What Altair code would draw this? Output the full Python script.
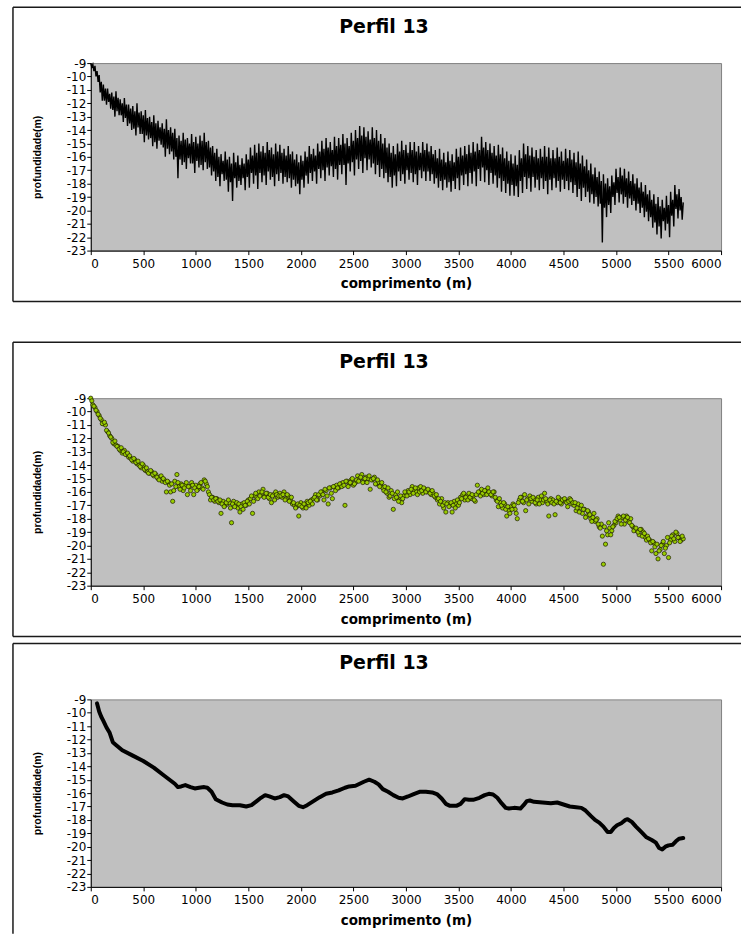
import altair as alt
import pandas as pd

title_text = "Perfil 13"
x_title = "comprimento (m)"
y_title = "profundidade(m)"
x_ticks = [0, 500, 1000, 1500, 2000, 2500, 3000, 3500, 4000, 4500, 5000, 5500, 6000]
y_ticks = [-23, -22, -21, -20, -19, -18, -17, -16, -15, -14, -13, -12, -11, -10, -9]

# ---- panel 1: raw echo-sounder profile, read as a zig-zag every 10 m:
# block of 40 m = peak (hi), trough (lo_a), peak (hi_b), trough (lo)
raw_step = 10
raw_hi = [
    -9.0, -9.2, -9.9, -10.6, -10.9, -11.2, -11.1, -11.7, -11.6, -12.1,
    -12.2, -12.0, -12.6, -12.5, -13.0, -12.9, -13.3, -13.5, -13.2, -13.8,
    -13.9, -14.4, -14.2, -14.6, -14.3, -14.5, -14.4, -14.2, -14.8, -15.2,
    -15.4, -15.8, -15.6, -16.0, -15.7, -15.9, -16.1, -15.8, -15.3, -15.1,
    -15.0, -15.2, -14.9, -15.3, -15.0, -15.1, -15.4, -15.2, -15.6, -15.8,
    -15.9, -15.6, -15.2, -15.4, -15.0, -14.8, -14.6, -14.9, -14.5, -14.6,
    -14.3, -14.6, -14.2, -14.0, -13.7, -13.8, -14.1, -13.8, -14.0, -14.3,
    -14.6, -15.0, -15.2, -15.0, -14.8, -15.1, -14.9, -14.9, -15.2, -14.9,
    -15.0, -15.2, -15.5, -15.4, -15.7, -15.6, -15.8, -15.4, -15.3, -15.2,
    -15.1, -14.9, -15.0, -14.5, -14.9, -15.0, -15.2, -15.1, -15.3, -15.6,
    -15.8, -15.9, -15.5, -15.0, -15.2, -15.3, -15.5, -15.4, -15.2, -15.3,
    -15.5, -15.3, -15.6, -15.4, -15.5, -15.7, -15.6, -15.9, -16.2, -16.5,
    -16.8, -17.1, -17.3, -17.6, -17.4, -16.9, -16.8, -16.9, -17.1, -17.3,
    -17.6, -17.9, -18.1, -18.5, -18.8, -19.0, -19.2, -18.9, -18.6, -18.1, -18.4,
]
raw_lo_a = [
    -9.3, -10.0, -11.2, -11.8, -11.9, -12.5, -12.6, -12.9, -13.1, -13.5,
    -13.9, -13.8, -14.3, -14.4, -14.6, -14.9, -14.8, -15.3, -15.4, -15.6,
    -16.0, -16.2, -16.4, -16.1, -16.5, -16.3, -16.6, -16.4, -16.8, -17.1,
    -17.5, -17.3, -17.7, -17.9, -17.6, -17.8, -17.6, -17.5, -17.2, -17.4,
    -17.2, -17.4, -17.1, -17.5, -17.3, -17.2, -17.5, -17.6, -17.7, -18.0,
    -17.7, -17.4, -17.2, -17.1, -16.9, -17.0, -16.8, -16.7, -16.9, -16.6,
    -16.6, -16.5, -16.4, -16.2, -16.3, -16.1, -16.2, -16.5, -16.6, -16.9,
    -17.2, -17.5, -17.4, -17.1, -17.3, -17.0, -17.2, -17.3, -17.0, -17.1,
    -17.1, -17.3, -17.6, -17.8, -17.7, -17.9, -17.8, -17.6, -17.4, -17.3,
    -17.2, -17.1, -16.9, -16.8, -17.0, -17.2, -17.4, -17.6, -17.8, -18.0,
    -18.1, -18.2, -17.8, -17.5, -17.6, -17.5, -17.7, -17.6, -17.8, -17.7,
    -17.6, -17.8, -17.7, -17.8, -17.9, -18.1, -18.4, -18.3, -18.6, -18.8,
    -19.0, -19.5, -19.8, -19.6, -19.0, -18.7, -18.8, -19.0, -19.1, -19.3,
    -19.5, -19.8, -20.1, -20.5, -20.9, -21.2, -20.8, -21.0, -20.4, -19.9, -20.0,
]
raw_hi_b = [
    -9.1, -9.6, -10.4, -10.9, -11.3, -11.5, -11.6, -12.0, -12.1, -12.4,
    -12.6, -12.7, -12.9, -13.1, -13.4, -13.5, -13.8, -13.9, -14.0, -14.2,
    -14.6, -14.8, -14.7, -15.0, -14.9, -15.0, -14.8, -14.9, -15.3, -15.7,
    -16.0, -16.3, -16.2, -16.5, -16.4, -16.6, -16.5, -16.2, -15.9, -15.7,
    -15.6, -15.7, -15.5, -15.8, -15.6, -15.7, -15.9, -15.8, -16.2, -16.4,
    -16.3, -16.0, -15.8, -15.9, -15.6, -15.4, -15.3, -15.5, -15.2, -15.1,
    -15.0, -15.2, -14.8, -14.6, -14.4, -14.5, -14.7, -14.6, -14.8, -15.0,
    -15.3, -15.7, -15.8, -15.6, -15.5, -15.7, -15.5, -15.6, -15.7, -15.5,
    -15.6, -15.8, -16.1, -16.2, -16.4, -16.3, -16.4, -16.0, -15.9, -15.8,
    -15.7, -15.6, -15.5, -15.3, -15.5, -15.7, -15.9, -15.8, -16.1, -16.3,
    -16.5, -16.6, -16.1, -15.8, -15.9, -16.0, -16.1, -16.0, -16.0, -16.1,
    -16.1, -16.0, -16.3, -16.1, -16.2, -16.4, -16.5, -16.7, -17.0, -17.3,
    -17.5, -17.8, -18.0, -18.2, -17.9, -17.5, -17.4, -17.6, -17.8, -18.0,
    -18.3, -18.6, -18.8, -19.2, -19.5, -19.7, -19.8, -19.6, -19.2, -18.8, -19.0,
]
raw_lo = [
    -9.6, -10.4, -11.8, -12.1, -12.4, -13.0, -12.9, -13.4, -13.7, -14.0,
    -14.4, -14.3, -14.9, -14.7, -15.2, -15.4, -15.1, -16.0, -15.8, -16.2,
    -17.6, -16.6, -16.9, -16.5, -17.2, -16.8, -17.0, -16.9, -17.4, -17.8,
    -18.2, -17.8, -18.6, -19.3, -18.3, -18.1, -18.5, -18.3, -18.0, -18.4,
    -17.9, -18.1, -17.7, -18.2, -17.8, -18.0, -17.9, -18.3, -18.2, -18.8,
    -18.3, -18.0, -17.8, -18.0, -17.6, -17.8, -17.4, -17.5, -17.7, -17.3,
    -18.1, -17.1, -17.4, -16.9, -17.2, -17.0, -16.8, -17.3, -17.5, -17.6,
    -17.9, -18.3, -18.2, -17.8, -18.0, -17.7, -17.9, -18.1, -17.6, -17.8,
    -17.8, -18.0, -18.3, -18.5, -18.3, -18.6, -18.4, -18.5, -18.1, -18.2,
    -18.0, -18.2, -17.8, -17.9, -18.1, -18.0, -18.3, -18.6, -18.7, -18.9,
    -18.9, -19.0, -18.7, -18.4, -18.6, -18.3, -18.5, -18.4, -18.8, -18.5,
    -18.3, -18.6, -18.4, -18.5, -18.7, -19.0, -19.3, -19.0, -19.4, -19.5,
    -19.7, -22.4, -20.5, -20.2, -19.6, -19.4, -19.5, -19.8, -19.6, -20.0,
    -20.2, -20.5, -20.8, -21.3, -21.8, -22.1, -21.5, -22.0, -21.2, -20.6, -20.7,
]
raw_end = (5640, -19.4)

# ---- panel 2: sampled points (two interleaved passes, 20 m apart each)
scatter_step = 20
scatter_y = [
    -9.0, -9.5, -9.7, -10.0, -10.3, -10.6, -10.9, -11.0, -11.5, -11.8,
    -12.0, -12.4, -12.5, -12.6, -12.9, -13.1, -12.9, -13.2, -13.4, -13.5,
    -13.7, -13.6, -13.9, -14.0, -14.2, -14.0, -14.4, -14.5, -14.6, -14.5,
    -14.8, -14.7, -15.0, -14.9, -15.2, -15.1, -16.0, -15.3, -16.0, -16.7,
    -15.2, -14.7, -15.6, -15.4, -15.9, -15.5, -16.2, -15.6, -15.3, -16.2,
    -15.5, -15.8, -15.4, -15.7, -15.1, -15.4, -16.0, -16.6, -16.4, -16.7,
    -16.5, -16.8, -17.6, -16.7, -17.0, -16.9, -16.8, -18.3, -16.7, -17.0,
    -17.2, -17.5, -16.9, -16.8, -17.0, -16.6, -16.5, -17.6, -16.3, -16.4,
    -16.0, -16.2, -15.8, -16.3, -16.1, -16.5, -16.8, -16.2, -16.0, -16.4,
    -16.1, -16.4, -16.0, -16.5, -16.3, -16.6, -16.9, -17.0, -17.1, -17.8,
    -16.8, -17.2, -16.9, -16.7, -17.0, -16.6, -16.5, -16.2, -16.6, -16.3,
    -16.0, -16.6, -15.9, -16.9, -15.7, -16.5, -15.6, -15.5, -15.7, -15.4,
    -15.3, -17.0, -15.2, -15.4, -15.1, -15.5, -15.3, -14.8, -15.0, -14.7,
    -15.2, -14.9, -15.0, -15.8, -15.1, -14.9, -15.4, -15.3, -15.5, -15.7,
    -15.6, -16.1, -16.4, -15.9, -17.3, -16.2, -16.0, -16.6, -16.8, -16.3,
    -16.1, -15.9, -16.2, -15.6, -15.9, -16.0, -15.7, -15.6, -16.1, -15.8,
    -16.0, -15.9, -16.2, -16.1, -16.4, -16.6, -16.9, -16.5, -17.2, -17.5,
    -16.8, -17.0, -17.5, -16.7, -16.9, -17.0, -16.4, -16.2, -16.6, -16.3,
    -16.1, -16.5, -16.3, -16.7, -15.5, -16.0, -15.8, -16.2, -15.9, -15.7,
    -16.1, -16.3, -16.0, -16.6, -17.1, -16.8, -17.2, -16.9, -17.8, -17.4,
    -17.1, -16.9, -17.3, -18.0, -16.6, -16.4, -16.8, -17.4, -16.5, -16.3,
    -16.7, -16.5, -16.9, -16.4, -16.6, -16.8, -16.1, -16.7, -17.8, -16.5,
    -16.6, -17.7, -16.8, -16.5, -16.9, -16.6, -16.7, -17.1, -16.5, -16.9,
    -17.0, -17.4, -16.9, -17.2, -17.6, -17.3, -17.8, -17.5, -18.0, -17.9,
    -18.2, -18.0, -18.6, -18.4, -21.4, -19.9, -19.2, -18.7, -18.9, -18.5,
    -18.3, -17.8, -18.1, -17.9, -18.4, -17.8, -18.2, -18.0, -18.6, -18.8,
    -18.9, -19.2, -18.8, -19.0, -19.4, -19.3, -19.6, -20.4, -19.8, -20.6,
    -21.0, -20.3, -19.9, -20.6, -20.0, -20.9, -19.6, -19.2, -19.7, -19.1,
    -19.4, -19.6, -19.5,
]
scatter2_start = 10
scatter2_y = [
    -9.2, -9.6, -9.9, -10.2, -10.5, -10.9, -10.8, -11.4, -11.6, -11.9,
    -12.3, -12.2, -12.6, -12.8, -12.7, -13.0, -13.2, -13.1, -13.3, -13.6,
    -13.5, -13.8, -13.7, -14.1, -13.9, -14.3, -14.2, -14.6, -14.4, -14.7,
    -14.6, -14.9, -15.1, -14.8, -15.0, -15.3, -15.2, -15.5, -15.4, -15.9,
    -15.6, -15.3, -15.8, -15.5, -15.7, -15.3, -15.6, -15.9, -15.5, -15.7,
    -15.9, -15.6, -15.3, -15.8, -15.2, -15.6, -16.2, -16.4, -16.6, -16.5,
    -16.7, -16.6, -16.9, -17.1, -16.8, -16.6, -17.2, -16.9, -17.1, -16.8,
    -16.9, -17.1, -17.3, -17.0, -16.7, -16.9, -16.3, -16.7, -16.1, -16.5,
    -16.3, -16.0, -16.4, -16.1, -16.4, -16.2, -16.3, -16.6, -16.2, -16.3,
    -16.3, -16.2, -16.6, -16.2, -16.7, -16.4, -16.8, -17.2, -16.9, -17.0,
    -17.1, -16.9, -17.2, -16.8, -16.7, -16.9, -16.4, -16.6, -16.2, -16.0,
    -16.2, -15.8, -16.3, -15.7, -16.1, -15.6, -15.9, -15.7, -15.4, -15.6,
    -15.5, -15.2, -15.6, -15.3, -15.0, -15.4, -15.1, -15.2, -14.9, -15.3,
    -15.0, -15.3, -14.8, -15.1, -15.0, -15.4, -15.1, -15.6, -15.3, -15.9,
    -16.0, -15.7, -16.3, -16.1, -16.5, -16.4, -16.7, -16.3, -16.5, -16.0,
    -16.3, -16.0, -15.8, -16.1, -15.7, -16.2, -16.0, -15.9, -15.7, -16.0,
    -15.8, -16.1, -15.9, -16.3, -16.2, -16.5, -16.7, -17.0, -16.8, -16.9,
    -17.1, -16.8, -17.0, -17.2, -16.6, -16.8, -16.5, -16.1, -16.4, -16.6,
    -16.4, -16.2, -16.6, -16.2, -16.0, -16.3, -16.1, -15.9, -16.2, -16.0,
    -16.2, -16.0, -16.4, -16.7, -16.5, -17.0, -16.8, -17.3, -17.1, -17.6,
    -17.3, -17.0, -17.6, -16.8, -16.4, -16.7, -16.2, -16.6, -16.9, -16.5,
    -16.4, -16.8, -16.6, -16.9, -16.3, -16.6, -16.5, -16.9, -16.6, -16.8,
    -16.9, -16.7, -16.4, -16.8, -16.6, -16.5, -16.8, -16.7, -16.6, -16.8,
    -16.8, -17.2, -17.5, -17.0, -17.3, -17.9, -17.4, -17.7, -18.2, -17.6,
    -18.1, -18.4, -18.7, -19.3, -18.6, -18.9, -18.3, -19.2, -18.6, -18.2,
    -18.0, -17.9, -18.4, -17.8, -18.1, -17.9, -18.3, -18.5, -18.9, -18.7,
    -19.0, -18.8, -19.3, -19.1, -19.6, -19.5, -19.8, -19.7, -20.1, -19.9,
    -20.4, -20.0, -19.7, -20.2, -19.4, -19.8, -19.3, -19.5, -19.0, -19.4,
    -19.7, -19.3,
]

# ---- panel 3: smoothed profile
smooth_x = [
    60, 70, 80, 100, 120, 150, 180, 210, 240, 300,
    400, 500, 600, 700, 800, 830, 860, 900, 950, 990,
    1030, 1080, 1110, 1150, 1190, 1250, 1300, 1350, 1420, 1480,
    1530, 1580, 1620, 1660, 1700, 1750, 1800, 1840, 1880, 1930,
    1980, 2020, 2060, 2120, 2180, 2240, 2300, 2360, 2420, 2460,
    2520, 2560, 2600, 2650, 2700, 2740, 2780, 2830, 2880, 2930,
    2970, 3020, 3080, 3130, 3190, 3250, 3300, 3340, 3380, 3420,
    3480, 3520, 3560, 3600, 3640, 3700, 3750, 3790, 3830, 3870,
    3910, 3950, 3980, 4030, 4090, 4120, 4150, 4180, 4220, 4300,
    4380, 4440, 4500, 4560, 4620, 4670, 4710, 4760, 4800, 4840,
    4880, 4920, 4950, 4980, 5010, 5050, 5090, 5110, 5150, 5190,
    5240, 5290, 5340, 5380, 5410, 5440, 5470, 5500, 5540, 5570,
    5600, 5640,
]
smooth_y = [
    -9.3, -9.6, -9.9, -10.3, -10.6, -11.1, -11.5, -12.2, -12.4, -12.8,
    -13.2, -13.6, -14.1, -14.7, -15.3, -15.55, -15.5, -15.4, -15.55, -15.65,
    -15.6, -15.55, -15.6, -15.9, -16.45, -16.7, -16.85, -16.9, -16.9, -17.0,
    -16.9, -16.6, -16.35, -16.15, -16.25, -16.4, -16.3, -16.15, -16.25, -16.6,
    -16.95, -17.05, -16.9, -16.6, -16.3, -16.05, -15.95, -15.8, -15.6, -15.5,
    -15.45, -15.3, -15.15, -15.0, -15.15, -15.35, -15.7, -15.9, -16.15, -16.35,
    -16.4, -16.25, -16.05, -15.9, -15.9, -15.95, -16.1, -16.4, -16.8, -16.95,
    -16.95, -16.8, -16.45, -16.5, -16.5, -16.35, -16.15, -16.05, -16.1, -16.35,
    -16.75, -17.1, -17.15, -17.1, -17.15, -16.9, -16.6, -16.55, -16.65, -16.7,
    -16.75, -16.7, -16.85, -17.0, -17.05, -17.1, -17.3, -17.7, -18.0, -18.2,
    -18.5, -18.9, -18.9, -18.6, -18.4, -18.25, -18.0, -17.95, -18.15, -18.5,
    -18.9, -19.3, -19.5, -19.7, -20.1, -20.2, -20.0, -19.9, -19.85, -19.6,
    -19.4, -19.35,
]

# ---- tables
raw_x, raw_y = [], []
for i, vals in enumerate(zip(raw_hi, raw_lo_a, raw_hi_b, raw_lo)):
    for j, v in enumerate(vals):
        raw_x.append((4 * i + j) * raw_step)
        raw_y.append(v)
raw_x.append(raw_end[0])
raw_y.append(raw_end[1])
raw_df = pd.DataFrame({"x": raw_x, "y": raw_y})
sc_x = [i * scatter_step for i in range(len(scatter_y))]
sc_x += [scatter2_start + i * scatter_step for i in range(len(scatter2_y))]
scatter_df = pd.DataFrame({"x": sc_x, "y": scatter_y + scatter2_y})
smooth_df = pd.DataFrame({"x": smooth_x, "y": smooth_y})

W, H = 632, 188
TICK_FONT = "DejaVu Sans"

x_enc = alt.X(
    "x:Q",
    scale=alt.Scale(domain=[0, 6000], nice=False, zero=False),
    axis=alt.Axis(values=x_ticks, title=x_title, titleY=33.5, titleBaseline="middle",
                  titleFont="DejaVu Sans", titleFontSize=13.5, titleFontWeight="bold",
                  labelPadding=4, labelExpr="toString(datum.value)"),
)
y_enc = alt.Y(
    "y:Q",
    scale=alt.Scale(domain=[-23, -9], nice=False, zero=False),
    axis=alt.Axis(values=y_ticks, title=y_title, titleX=-53, titleY=H / 2,
                  titleBaseline="middle", titleAngle=270, titleAlign="center",
                  titleFont="Liberation Sans", titleFontSize=10.5, titleFontWeight="bold",
                  labelPadding=1, labelExpr="toString(datum.value)"),
)


def frame(bottom=True):
    one = alt.Data(values=[{"k": 0}])
    base = alt.Chart(one).mark_rule(color="#1a1a1a", strokeWidth=1.5)
    layers = [
        base.encode(x=alt.value(-78), x2=alt.value(652), y=alt.value(-56)),
        base.encode(x=alt.value(-78), y=alt.value(-56), y2=alt.value(239 if bottom else 235)),
    ]
    if bottom:
        layers.append(base.encode(x=alt.value(-78), x2=alt.value(652), y=alt.value(239)))
    layers.append(
        alt.Chart(one).mark_text(font="DejaVu Sans", fontSize=19, fontWeight="bold",
                                 align="center", baseline="middle", color="black")
        .encode(x=alt.value(W / 2 - 22), y=alt.value(-36), text=alt.value(title_text))
    )
    return layers


raw_line = alt.Chart(raw_df).mark_line(color="black", strokeWidth=1.4).encode(x=x_enc, y=y_enc)
pts = alt.Chart(scatter_df).mark_point(
    shape="circle", filled=True, size=18, fill="#99cc00", stroke="#1a1a00",
    strokeWidth=0.7, opacity=1
).encode(x=x_enc, y=y_enc)
smooth = alt.Chart(smooth_df).mark_line(
    color="black", strokeWidth=4, strokeJoin="round", strokeCap="round"
).encode(x=x_enc, y=y_enc)

p1 = alt.layer(*frame(True), raw_line).properties(width=W, height=H)
p2 = alt.layer(*frame(True), pts).properties(width=W, height=H)
p3 = alt.layer(*frame(False), smooth).properties(width=W, height=H)

chart = alt.vconcat(
    p1, alt.vconcat(p2, p3, spacing=3), spacing=37
).properties(
    padding={"left": 11, "top": 4, "right": 0, "bottom": 0},
    background="white",
).configure_view(
    fill="#c0c0c0", stroke="#808080", strokeWidth=1
).configure_axis(
    grid=False, domainColor="black", domainWidth=1, tickColor="black", tickSize=4,
    labelFont=TICK_FONT, labelFontSize=12, labelColor="black", titleColor="black",
)

chart.save("out.html", embed_options={"renderer": "svg", "actions": False})
